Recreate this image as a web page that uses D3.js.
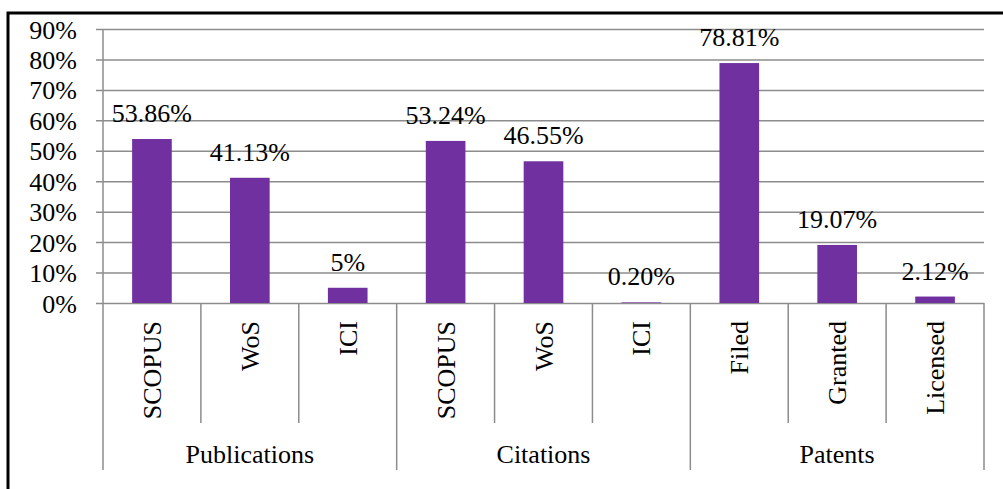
<!DOCTYPE html>
<html>
<head>
<meta charset="utf-8">
<script src="https://cdn.jsdelivr.net/npm/d3@7"></script>
<style>
  body { margin: 0; background: #fff; }
  svg text { font-family: "Liberation Serif", "Times New Roman", serif; fill: #000; }
</style>
</head>
<body>
<div id="chart"></div>
<script>
//----------------------------DATA------------------------------//
var categories = ["SCOPUS", "WoS", "ICI", "SCOPUS", "WoS", "ICI", "Filed", "Granted", "Licensed"];
var groups = ["Publications", "Publications", "Publications", "Citations", "Citations", "Citations", "Patents", "Patents", "Patents"];
var values = [53.86, 41.13, 5, 53.24, 46.55, 0.20, 78.81, 19.07, 2.12];
var valueLabels = ["53.86%", "41.13%", "5%", "53.24%", "46.55%", "0.20%", "78.81%", "19.07%", "2.12%"];
var yTicks = [0, 10, 20, 30, 40, 50, 60, 70, 80, 90];

//----------------------------SETUP-----------------------------//
var W = 1003, H = 489;
var plotLeft = 103, plotRight = 984, plotTop = 29, plotBottom = 303;
var gridColor = "#8c8c8c";
var fontSize = 26;

var svg = d3.select("#chart").append("svg")
    .attr("width", W)
    .attr("height", H);

// frame (only top and left edges are visible in the picture)
svg.append("rect")
    .attr("x", 8)
    .attr("y", 13)
    .attr("width", W + 20)
    .attr("height", H + 20)
    .attr("fill", "none")
    .attr("stroke", "#000")
    .attr("stroke-width", 3);

//----------------------------SCALES----------------------------//
var x = d3.scaleBand()
    .domain(d3.range(categories.length))
    .range([plotLeft, plotRight])
    .paddingInner(0)
    .paddingOuter(0);

var y = d3.scaleLinear()
    .domain([0, 90])
    .range([plotBottom, plotTop]);

//-----------------------------AXES-----------------------------//
var yAxis = d3.axisLeft(y)
    .tickValues(yTicks)
    .tickFormat(function(d) { return d + "%"; })
    .tickSize(-(plotRight - plotLeft))
    .tickPadding(26);

var gy = svg.append("g")
    .attr("transform", "translate(" + plotLeft + ",0)")
    .call(yAxis);
gy.select(".domain").remove();
gy.selectAll(".tick line")
    .attr("x1", -7)
    .attr("stroke", gridColor)
    .attr("stroke-width", 1.5);
gy.selectAll(".tick text")
    .style("font-size", fontSize + "px")
    .attr("dy", "0.35em");

// vertical axis line
svg.append("line")
    .attr("x1", plotLeft).attr("x2", plotLeft)
    .attr("y1", y(90)).attr("y2", 470)
    .attr("stroke", gridColor)
    .attr("stroke-width", 1.5);

// category separators (short for inner, long between groups)
var boundaries = d3.range(1, categories.length + 1);
svg.selectAll(".sep")
    .data(boundaries)
    .enter()
    .append("line")
    .attr("class", "sep")
    .attr("x1", function(i) { return x(i - 1) + x.bandwidth(); })
    .attr("x2", function(i) { return x(i - 1) + x.bandwidth(); })
    .attr("y1", plotBottom)
    .attr("y2", function(i) { return (i % 3 === 0) ? 470 : 423; })
    .attr("stroke", gridColor)
    .attr("stroke-width", 1.5);

//----------------------------BARS------------------------------//
var barW = x.bandwidth() * 0.405;

svg.selectAll(".bar")
    .data(values)
    .enter()
    .append("rect")
    .attr("class", "bar")
    .attr("x", function(d, i) { return x(i) + (x.bandwidth() - barW) / 2; })
    .attr("y", function(d) { return y(d); })
    .attr("width", barW)
    .attr("height", function(d) { return y(0) - y(d); })
    .attr("fill", "#7030a0");

// value labels
svg.selectAll(".vlabel")
    .data(values)
    .enter()
    .append("text")
    .attr("class", "vlabel")
    .attr("x", function(d, i) { return x(i) + x.bandwidth() / 2; })
    .attr("y", function(d) { return y(d) - 17; })
    .attr("text-anchor", "middle")
    .style("font-size", fontSize + "px")
    .text(function(d, i) { return valueLabels[i]; });

// category labels, rotated
svg.selectAll(".clabel")
    .data(categories)
    .enter()
    .append("text")
    .attr("class", "clabel")
    .attr("transform", function(d, i) {
        return "translate(" + (x(i) + x.bandwidth() / 2 + 9) + ",321) rotate(-90)";
    })
    .attr("text-anchor", "end")
    .style("font-size", fontSize + "px")
    .text(function(d) { return d; });

// group labels
var groupNames = Array.from(new Set(groups));
svg.selectAll(".glabel")
    .data(groupNames)
    .enter()
    .append("text")
    .attr("class", "glabel")
    .attr("x", function(g) {
        var idx = d3.range(groups.length).filter(function(i) { return groups[i] === g; });
        return (x(idx[0]) + x(idx[idx.length - 1]) + x.bandwidth()) / 2;
    })
    .attr("y", 463)
    .attr("text-anchor", "middle")
    .style("font-size", fontSize + "px")
    .text(function(g) { return g; });
</script>
</body>
</html>
